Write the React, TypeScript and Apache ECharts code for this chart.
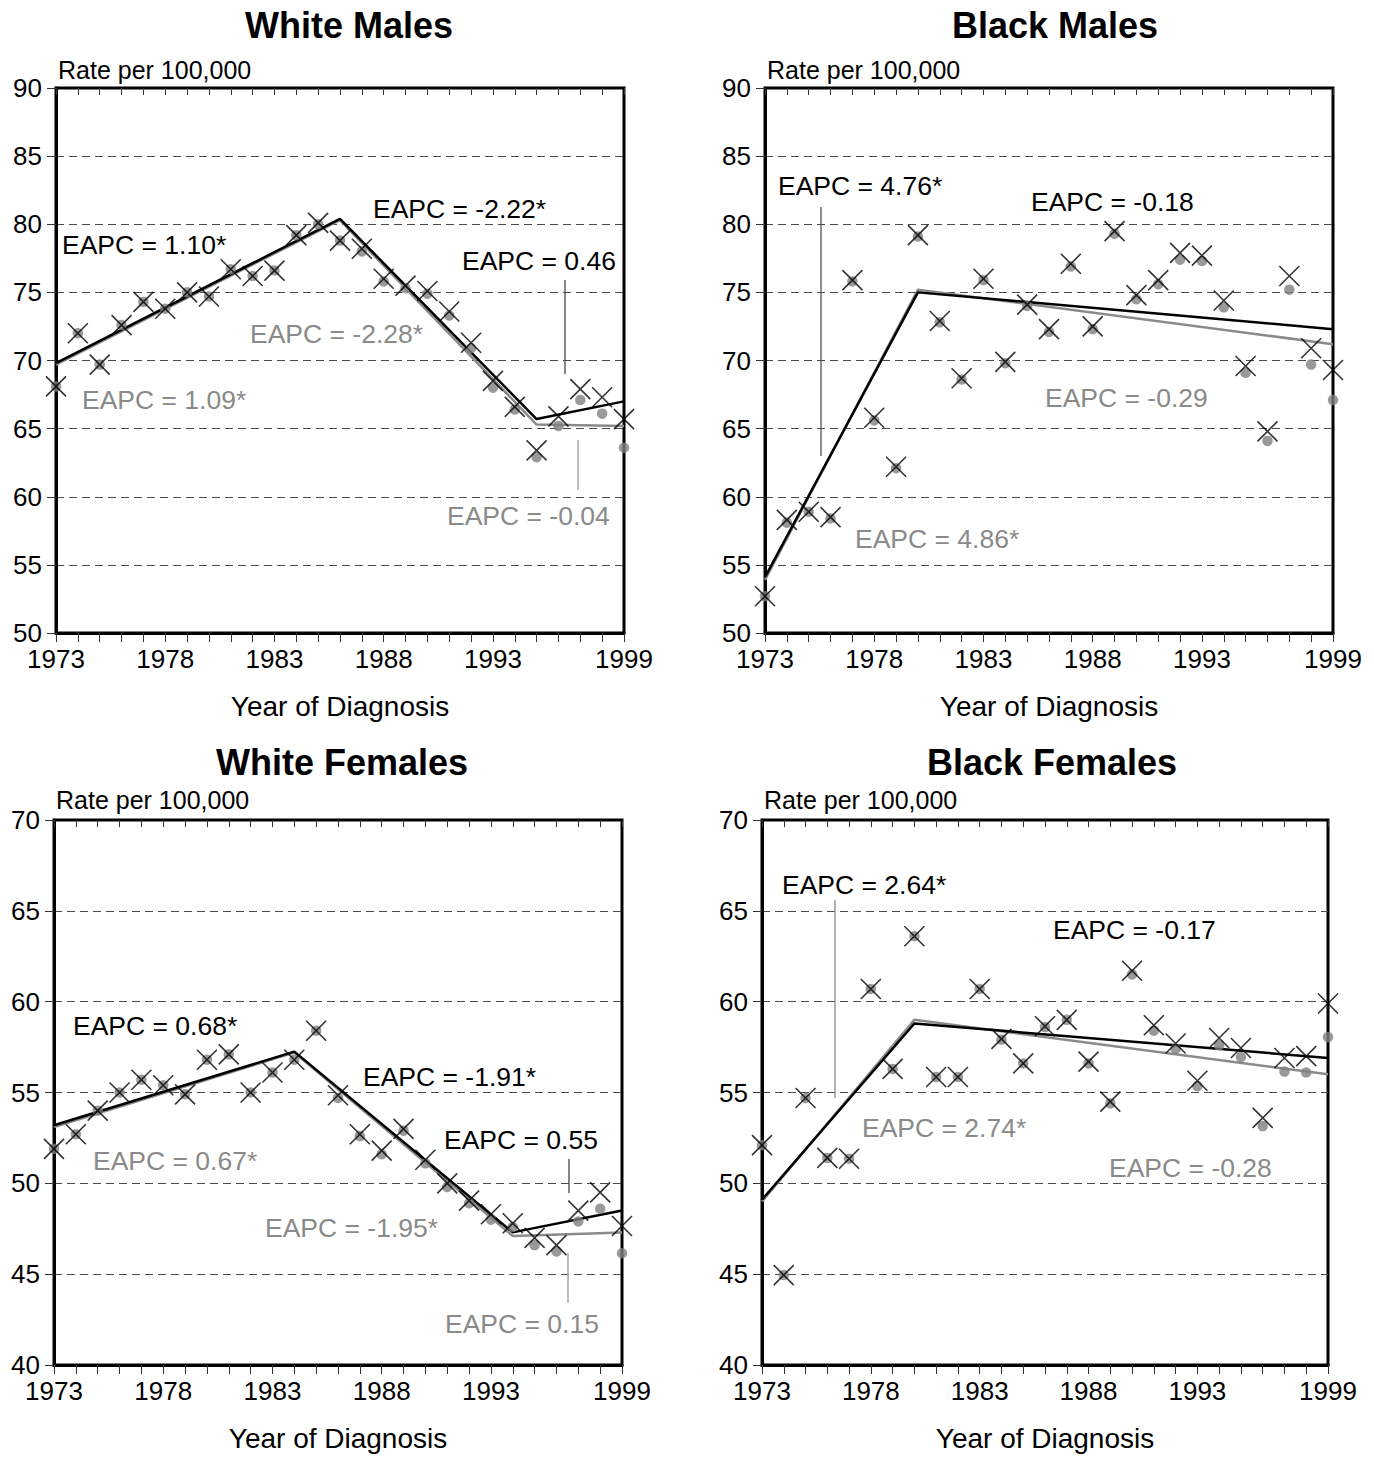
import React, { useEffect, useRef } from "react";
import * as echarts from "echarts";

const FONT = "'Liberation Sans', Arial, Helvetica, sans-serif";

const years = [1973, 1974, 1975, 1976, 1977, 1978, 1979, 1980, 1981, 1982, 1983, 1984, 1985, 1986, 1987, 1988, 1989, 1990, 1991, 1992, 1993, 1994, 1995, 1996, 1997, 1998, 1999];
const xTickLabels = [1973, 1978, 1983, 1988, 1993, 1999];

// White Males
const wmRate = [68.1, 72.0, 69.7, 72.6, 74.3, 73.8, 75.0, 74.7, 76.7, 76.2, 76.6, 79.2, 80.1, 78.8, 78.2, 76.0, 75.5, 75.1, 73.6, 71.3, 68.5, 66.6, 63.4, 65.9, 67.9, 67.3, 65.7];
const wmDot = [68.1, 72.0, 69.7, 72.6, 74.3, 73.8, 75.0, 74.7, 76.7, 76.2, 76.6, 79.2, 80.0, 78.8, 78.0, 75.8, 75.3, 74.9, 73.3, 70.9, 68.0, 66.4, 62.9, 65.2, 67.1, 66.1, 63.6];
const wmFitBlack = [[1973, 69.8], [1986, 80.4], [1995, 65.7], [1999, 67.0]];
const wmFitGray = [[1973, 69.7], [1986, 80.3], [1995, 65.3], [1999, 65.2]];

// Black Males
const bmRate = [52.7, 58.3, 58.9, 58.5, 75.9, 65.8, 62.2, 79.2, 72.9, 68.7, 76.0, 69.9, 74.1, 72.3, 77.1, 72.5, 79.5, 74.8, 75.9, 77.9, 77.7, 74.4, 69.6, 64.8, 76.2, 70.9, 69.3];
const bmDot = [52.7, 58.1, 58.9, 58.4, 75.8, 65.6, 62.1, 79.1, 72.8, 68.6, 75.9, 69.8, 74.0, 72.1, 76.9, 72.3, 79.3, 74.5, 75.6, 77.4, 77.3, 73.9, 69.1, 64.1, 75.2, 69.7, 67.1];
const bmFitBlack = [[1973, 54.1], [1980, 75.0], [1999, 72.3]];
const bmFitGray = [[1973, 53.9], [1980, 75.2], [1999, 71.2]];

// White Females
const wfRate = [51.9, 52.7, 54.0, 55.0, 55.7, 55.4, 54.9, 56.8, 57.1, 55.0, 56.1, 56.8, 58.4, 54.85, 52.7, 51.8, 53.0, 51.3, 50.0, 49.05, 48.3, 47.8, 47.0, 46.6, 48.5, 49.5, 47.65];
const wfDot = [51.9, 52.7, 54.0, 55.0, 55.7, 55.4, 54.9, 56.8, 57.1, 55.0, 56.1, 56.8, 58.4, 54.7, 52.6, 51.6, 52.9, 51.1, 49.8, 48.9, 48.0, 47.6, 46.6, 46.25, 47.9, 48.6, 46.15];
const wfFitBlack = [[1973, 53.2], [1984, 57.25], [1994, 47.3], [1999, 48.5]];
const wfFitGray = [[1973, 53.1], [1984, 57.2], [1994, 47.1], [1999, 47.3]];

// Black Females
const bfRate = [52.1, 44.95, 54.7, 51.4, 51.35, 60.7, 56.3, 63.6, 55.85, 55.85, 60.7, 57.95, 56.6, 58.65, 59.0, 56.7, 54.5, 61.7, 58.7, 57.7, 55.65, 58.0, 57.45, 53.6, 56.9, 57.0, 59.9];
const bfDot = [52.1, 44.95, 54.7, 51.4, 51.35, 60.7, 56.3, 63.6, 55.85, 55.85, 60.7, 57.9, 56.6, 58.6, 59.0, 56.6, 54.4, 61.5, 58.4, 57.4, 55.35, 57.6, 56.95, 53.15, 56.15, 56.1, 58.05];
const bfFitBlack = [[1973, 49.1], [1980, 58.8], [1999, 56.9]];
const bfFitGray = [[1973, 49.0], [1980, 59.0], [1999, 56.0]];

const GRAY = "#8a8a8a";
const DOT = "#7f7f7f";

const panels = [
  { title: "White Males", titleX: 349, titleY: 25, rateY: 70, rate: wmRate, dot: wmDot, fitB: wmFitBlack, fitG: wmFitGray, yMin: 50, yMax: 90, grid: { left: 56, top: 88, width: 568, height: 545 } },
  { title: "Black Males", titleX: 1055, titleY: 25, rateY: 70, rate: bmRate, dot: bmDot, fitB: bmFitBlack, fitG: bmFitGray, yMin: 50, yMax: 90, grid: { left: 765, top: 88, width: 568, height: 545 } },
  { title: "White Females", titleX: 342, titleY: 762, rateY: 800, rate: wfRate, dot: wfDot, fitB: wfFitBlack, fitG: wfFitGray, yMin: 40, yMax: 70, grid: { left: 54, top: 820, width: 568, height: 545 } },
  { title: "Black Females", titleX: 1052, titleY: 762, rateY: 800, rate: bfRate, dot: bfDot, fitB: bfFitBlack, fitG: bfFitGray, yMin: 40, yMax: 70, grid: { left: 762, top: 820, width: 566, height: 545 } },
];

// annotations: [text, left x, center y, color]
const annotations: [string, number, number, string][] = [
  ["EAPC = 1.10*", 62, 245, "#000"],
  ["EAPC = 1.09*", 82, 400, GRAY],
  ["EAPC = -2.22*", 373, 209, "#000"],
  ["EAPC = -2.28*", 250, 334, GRAY],
  ["EAPC = 0.46", 462, 261, "#000"],
  ["EAPC = -0.04", 447, 516, GRAY],
  ["EAPC = 4.76*", 778, 186, "#000"],
  ["EAPC = -0.18", 1031, 202, "#000"],
  ["EAPC = -0.29", 1045, 398, GRAY],
  ["EAPC = 4.86*", 855, 539, GRAY],
  ["EAPC = 0.68*", 73, 1026, "#000"],
  ["EAPC = 0.67*", 93, 1161, GRAY],
  ["EAPC = -1.91*", 363, 1077, "#000"],
  ["EAPC = 0.55", 444, 1140, "#000"],
  ["EAPC = -1.95*", 265, 1228, GRAY],
  ["EAPC = 0.15", 445, 1324, GRAY],
  ["EAPC = 2.64*", 782, 885, "#000"],
  ["EAPC = -0.17", 1053, 930, "#000"],
  ["EAPC = 2.74*", 862, 1128, GRAY],
  ["EAPC = -0.28", 1109, 1168, GRAY],
];

// leader lines: [x, y1, y2, color]
const leaders: [number, number, number, string][] = [
  [565, 280, 374, "#444"],
  [578, 440, 490, "#999"],
  [821, 207, 456, "#555"],
  [569, 1159, 1193, "#444"],
  [568, 1253, 1303, "#999"],
  [835, 900, 1098, "#888"],
];

const X_SYMBOL = "path://M0,0L10,10M10,0L0,10";

export default function App() {
  const ref = useRef<HTMLDivElement>(null);

  useEffect(() => {
    if (!ref.current) return;
    const chart = echarts.init(ref.current, undefined, { renderer: "svg" });

    const grid: any[] = [];
    const xAxis: any[] = [];
    const yAxis: any[] = [];
    const series: any[] = [];
    const graphic: any[] = [];

    panels.forEach((p, i) => {
      grid.push({ ...p.grid, show: true, borderColor: "#000", borderWidth: 3, backgroundColor: "transparent", containLabel: false });
      xAxis.push({
        type: "value",
        gridIndex: i,
        position: "bottom",
        min: 1973,
        max: 1999,
        interval: 1,
        axisLine: { show: true, onZero: false, lineStyle: { color: "#000", width: 3 } },
        axisTick: { show: true, length: 9, lineStyle: { color: "#333", width: 1 } },
        axisLabel: {
          show: true,
          margin: 13,
          fontSize: 26,
          color: "#000",
          fontFamily: FONT,
          showMinLabel: true,
          showMaxLabel: true,
          formatter: (v: number) => (xTickLabels.indexOf(v) >= 0 ? String(v) : ""),
        },
        splitLine: { show: false },
        name: "Year of Diagnosis",
        nameLocation: "middle",
        nameGap: 59,
        nameTextStyle: { fontSize: 28, color: "#000", fontFamily: FONT },
      });
      xAxis.push({
        type: "value",
        gridIndex: i,
        position: "top",
        min: 1973,
        max: 1999,
        interval: 1,
        axisLine: { show: false },
        axisTick: { show: true, inside: true, length: 7, lineStyle: { color: "#333", width: 1 } },
        axisLabel: { show: false },
        splitLine: { show: false },
      });
      yAxis.push({
        type: "value",
        gridIndex: i,
        min: p.yMin,
        max: p.yMax,
        interval: 5,
        axisLine: { show: true, onZero: false, lineStyle: { color: "#000", width: 3 } },
        axisTick: { show: true, length: 9, lineStyle: { color: "#333", width: 1 } },
        axisLabel: { margin: 14, fontSize: 26, color: "#000", fontFamily: FONT },
        splitLine: { show: true, showMinLine: false, showMaxLine: false, lineStyle: { type: [8, 5], color: "#4a4a4a", width: 1.2 } },
      });

      const xIdx = i * 2;
      series.push({
        type: "line",
        xAxisIndex: xIdx,
        yAxisIndex: i,
        data: p.fitG,
        symbol: "none",
        lineStyle: { color: GRAY, width: 2.5 },
        z: 2,
        silent: true,
      });
      series.push({
        type: "line",
        xAxisIndex: xIdx,
        yAxisIndex: i,
        data: p.fitB,
        symbol: "none",
        lineStyle: { color: "#000", width: 2.5 },
        z: 3,
        silent: true,
      });
      series.push({
        type: "scatter",
        xAxisIndex: xIdx,
        yAxisIndex: i,
        data: years.map((y, k) => [y, p.dot[k]]),
        symbol: "circle",
        symbolSize: 10.5,
        itemStyle: { color: DOT },
        clip: false,
        z: 4,
        silent: true,
      });
      series.push({
        type: "scatter",
        xAxisIndex: xIdx,
        yAxisIndex: i,
        data: years.map((y, k) => [y, p.rate[k]]),
        symbol: X_SYMBOL,
        symbolSize: 20,
        itemStyle: { color: "transparent", borderColor: "#000", borderWidth: 1.6 },
        clip: false,
        z: 5,
        silent: true,
      });

      graphic.push({
        type: "text",
        x: p.titleX,
        y: p.titleY,
        style: { text: p.title, fill: "#000", font: `bold 36px ${FONT}`, textAlign: "center", textVerticalAlign: "middle", align: "center", verticalAlign: "middle" },
      });
      graphic.push({
        type: "text",
        x: p.grid.left + 2,
        y: p.rateY,
        style: { text: "Rate per 100,000", fill: "#000", font: `25px ${FONT}`, textAlign: "left", textVerticalAlign: "middle", align: "left", verticalAlign: "middle" },
      });
    });

    annotations.forEach(([t, x, y, c]) => {
      graphic.push({
        type: "text",
        x,
        y,
        z: 10,
        style: { text: t, fill: c, font: `26.5px ${FONT}`, textAlign: "left", textVerticalAlign: "middle", align: "left", verticalAlign: "middle" },
      });
    });
    leaders.forEach(([x, y1, y2, c]) => {
      graphic.push({
        type: "line",
        z: 10,
        shape: { x1: x, y1, x2: x, y2 },
        style: { stroke: c, lineWidth: 1.3 },
      });
    });

    chart.setOption({
      animation: false,
      backgroundColor: "#fff",
      textStyle: { fontFamily: FONT },
      grid,
      xAxis,
      yAxis,
      series,
      graphic,
    });

    return () => chart.dispose();
  }, []);

  return (
    <div
      ref={ref}
      style={{ position: "absolute", left: 0, top: 0, width: 1374, height: 1457, background: "#fff" }}
    />
  );
}
